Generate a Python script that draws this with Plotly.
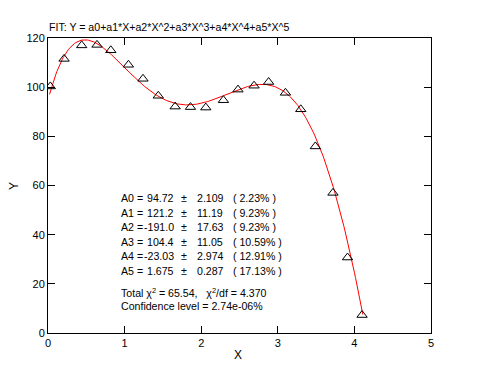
import numpy as np
import plotly.graph_objects as go

# ---- data ----
x_data = [0.03, 0.21, 0.44, 0.64, 0.82, 1.05, 1.24, 1.44, 1.66, 1.86, 2.06,
          2.29, 2.48, 2.69, 2.88, 3.10, 3.30, 3.49, 3.72, 3.91, 4.10]
y_data = [100.3, 111.5, 117.0, 117.2, 115.0, 109.1, 103.4, 96.5, 92.1, 91.9, 91.7,
          94.7, 99.0, 100.6, 102.1, 97.7, 91.0, 75.9, 57.0, 30.7, 7.3]

coef_names = ["A0", "A1", "A2", "A3", "A4", "A5"]
coef_values = [94.72, 121.2, -191.0, 104.4, -23.03, 1.675]
coef_value_text = ["94.72", "121.2", "-191.0", "104.4", "-23.03", "1.675"]
coef_errors = ["2.109", "11.19", "17.63", "11.05", "2.974", "0.287"]
coef_pct = ["2.23%", "9.23%", "9.23%", "10.59%", "12.91%", "17.13%"]

chi2_total = "65.54"
chi2_df = "4.370"
conf_level = "2.74e-06%"

x_ticks = [0, 1, 2, 3, 4, 5]
y_ticks = [0, 20, 40, 60, 80, 100, 120]

title_text = "FIT: Y = a0+a1*X+a2*X^2+a3*X^3+a4*X^4+a5*X^5"

# fitted curve from the displayed coefficients
xf = np.linspace(min(x_data) - 0.01, max(x_data) + 0.01, 300)
yf = np.polyval(coef_values[::-1], xf)

FONT = "Liberation Sans, Arial, sans-serif"

fig = go.Figure()
fig.add_trace(go.Scatter(x=xf, y=yf, mode="lines",
                         line=dict(color="#ff0000", width=1), hoverinfo="skip"))
fig.add_trace(go.Scatter(x=x_data, y=y_data, mode="markers",
                         marker=dict(symbol="triangle-up-open", size=9,
                                     color="black", line=dict(color="black", width=1))))

# page has an 8px body margin: the figure starts at page (8, 8)
OFF = 8
W, H = 464, 355
L, R, T, B = 40, 41, 30, 30
pw = W - L - R
ph = H - T - B

def px_to_paper(px, py):
    fx, fy = px - OFF, py - OFF
    return (fx - L) / pw, (H - B - fy) / ph

def add_text(annotations, txt, px, py, anchor="left", size=11, angle=0):
    ax, ay = px_to_paper(px, py)
    annotations.append(dict(text=txt, x=ax, y=ay, xref="paper", yref="paper",
                            xanchor=anchor, yanchor="middle", showarrow=False,
                            textangle=angle,
                            font=dict(family=FONT, size=size, color="black")))

annotations = []
add_text(annotations, title_text, 47, 27, "left", 10.6)

SZ = 10.6
line_y = [198, 212.5, 227, 241.5, 256, 270.5]
for i in range(6):
    yy = line_y[i]
    add_text(annotations, f"{coef_names[i]} =", 119, yy, "left", SZ)
    add_text(annotations, coef_value_text[i], 176, yy, "right", SZ)
    add_text(annotations, "±", 184, yy, "center", SZ)
    add_text(annotations, coef_errors[i], 195, yy, "left", SZ)
    add_text(annotations, f"( {coef_pct[i]} )", 231, yy, "left", SZ)

add_text(annotations, f"Total χ<sup>2</sup> = {chi2_total},   χ<sup>2</sup>/df = {chi2_df}", 119, 292, "left", SZ)
add_text(annotations, f"Confidence level = {conf_level}", 119, 306, "left", SZ)

# axis titles
add_text(annotations, "X", 238, 355, "center", 12)
add_text(annotations, "Y", 14, 186, "center", 12, -90)

axis_common = dict(showline=True, linecolor="black", linewidth=1, mirror="ticks",
                   ticks="inside", ticklen=7, tickwidth=1, tickcolor="black",
                   showgrid=False, zeroline=False, automargin=False,
                   tickfont=dict(family=FONT, size=11, color="black"))

fig.update_layout(
    width=W, height=H,
    margin=dict(l=L, r=R, t=T, b=B),
    paper_bgcolor="white", plot_bgcolor="white",
    showlegend=False,
    xaxis=dict(range=[0, 5], tickvals=x_ticks, **axis_common),
    yaxis=dict(range=[0, 120], tickvals=y_ticks, **axis_common),
    annotations=annotations,
)

fig.write_html("out.html")
